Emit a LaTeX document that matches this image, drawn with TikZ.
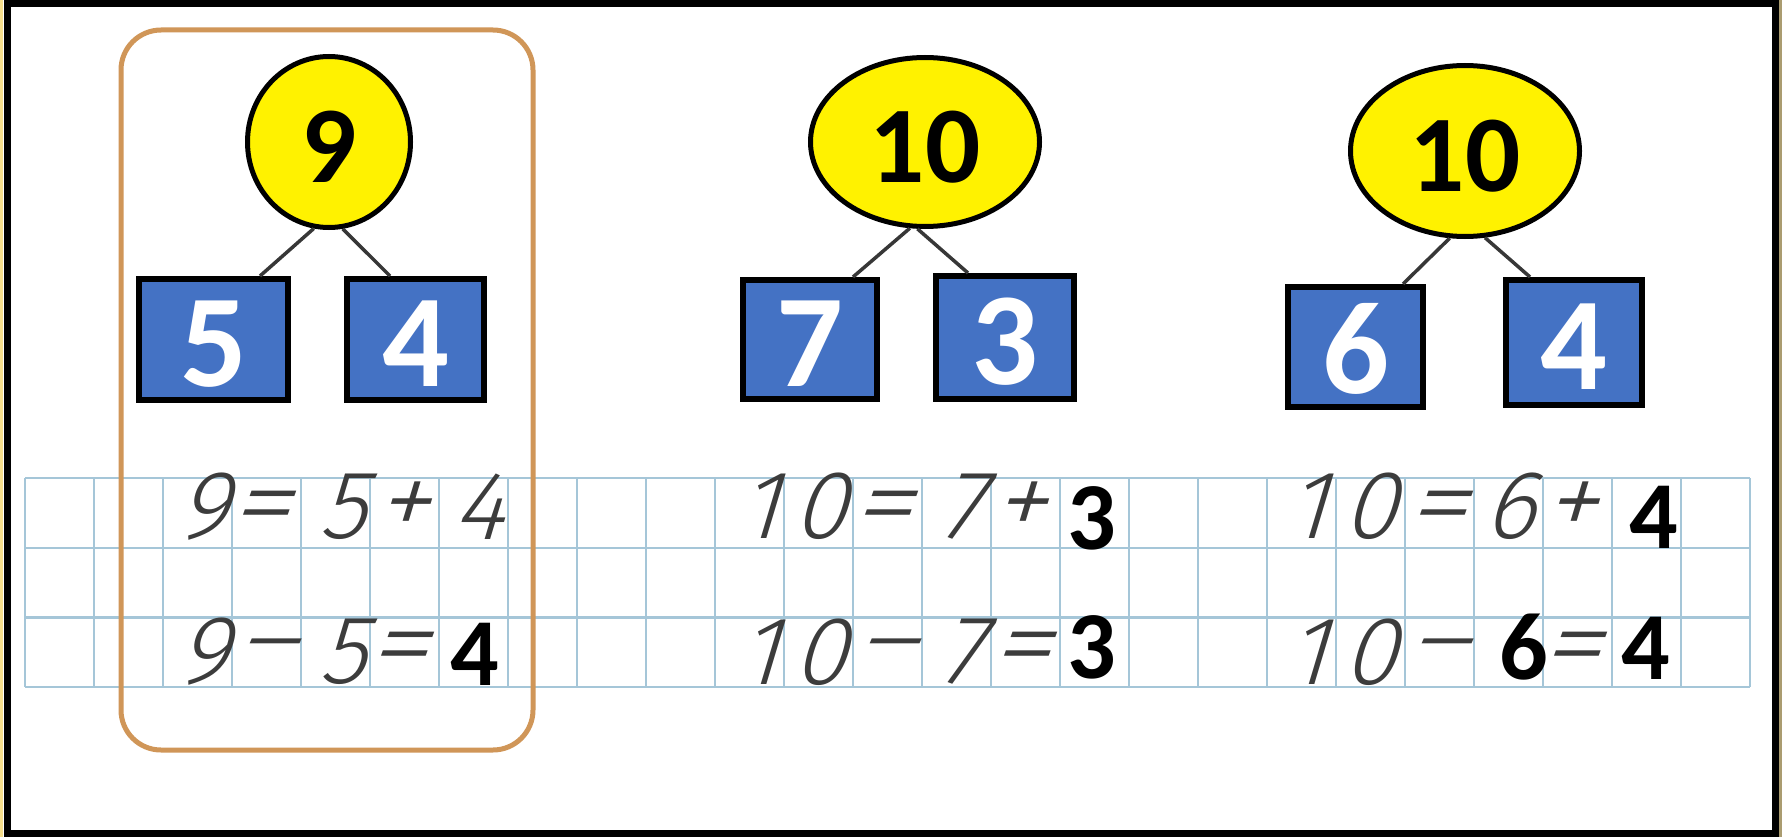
\documentclass[tikz,border=0pt]{standalone}
\usepackage{fontspec}
\usepackage{graphicx}
\setmainfont{Carlito}
\IfFontExistsTF{Fira Sans Light}{\newfontfamily\hand{Fira Sans Light}[FakeSlant=0.3]}{%
 \IfFontExistsTF{Lato Light}{\newfontfamily\hand{Lato Light}[FakeSlant=0.3]}{%
  \IfFontExistsTF{Open Sans Light}{\newfontfamily\hand{Open Sans Light}[FakeSlant=0.3]}{%
   \newfontfamily\hand{Fira Sans}[FakeSlant=0.3]}}}
\usetikzlibrary{calc,shapes.geometric}
\definecolor{boxblue}{HTML}{4472C4}
\definecolor{gridblue}{RGB}{165,198,216}
\definecolor{frameorange}{RGB}{208,150,88}
\definecolor{handgray}{RGB}{60,60,60}
\definecolor{linegray}{RGB}{55,55,55}
\definecolor{edgeyellow}{RGB}{246,222,140}
\definecolor{edgetan}{RGB}{170,156,112}
\newcommand{\wideeq}{\scalebox{1.3}[1.1]{=}}
\newcommand{\widemin}{\scalebox{1.45}[1]{−}}
\newcommand{\bigplus}{\scalebox{1.15}{+}}
\begin{document}
\begin{tikzpicture}[x=1pt,y=-1pt,
  whole/.style={ellipse, draw=black, line width=5pt, fill=yellow, inner sep=0pt,
    text height=81pt, text depth=0pt, font=\fontsize{109}{109}\selectfont\bfseries},
  part/.style={rectangle, draw=black, line width=6pt, fill=boxblue, inner sep=0pt,
    text=white, text height=93pt, text depth=0pt, font=\fontsize{132}{132}\selectfont\bfseries},
  link/.style={draw=linegray, line width=3.5pt},
  gridline/.style={draw=gridblue, line width=2.2pt},
  hw/.style={inner sep=0pt, text=handgray, font=\hand\fontsize{97}{100}\selectfont},
  ans/.style={inner sep=0pt, text=black, font=\fontsize{96}{100}\selectfont\bfseries},
]
\useasboundingbox (0,0) rectangle (1782,837);
\fill[white] (0,0) rectangle (1782,837);
\fill[edgeyellow] (0,0) rectangle (3,837);
\fill[edgetan] (1779,0) rectangle (1782,837);

% grid
\foreach \i in {0,...,25} \draw[gridline] ({25+69*\i},478) -- ({25+69*\i},687);
\foreach \yy in {478,548,617.5,687} \draw[gridline] (25,\yy) -- (1750,\yy);

% highlighted example frame
\draw[frameorange, line width=5pt, rounded corners=40pt] (121,30) rectangle (533,750);

% tree 1
\node[whole, minimum width=163pt, minimum height=171pt] (w1) at (329,142) {9};
\node[part, minimum width=149pt, minimum height=121pt] (a1) at (213.5,339.5) {5};
\node[part, minimum width=137pt, minimum height=121pt] (b1) at (415.5,339.5) {4};
\draw[link] (w1.260) -- ([xshift=46.5pt]a1.north);
\draw[link] (w1.279) -- ([xshift=-25.5pt]b1.north);

% tree 2
\node[whole, minimum width=229pt, minimum height=169pt] (w2) at (925,142) {10};
\node[part, minimum width=134pt, minimum height=119pt] (a2) at (810,339.5) {7};
\node[part, minimum width=138pt, minimum height=123pt] (b2) at (1005,337.5) {3};
\draw[link] (w2.260) -- ([xshift=43pt]a2.north);
\draw[link] (w2.265) -- ([xshift=-37pt]b2.north);

% tree 3
\node[whole, minimum width=229pt, minimum height=171pt] (w3) at (1465,151) {10};
\node[part, minimum width=135pt, minimum height=120pt] (a3) at (1355.5,347) {6};
\node[part, minimum width=136pt, minimum height=125pt] (b3) at (1574,342.5) {4};
\draw[link] (w3.260) -- ([xshift=47.5pt]a3.north);
\draw[link] (w3.283) -- ([xshift=-44pt]b3.north);

% handwritten equations
\foreach \nm/\xx/\yy/\ch in {
  pa1/202.5/506.5/9, pa2/258/515/\wideeq, pa3/342/506.5/5, pa4/401/510/\bigplus, pa5/478/506.5/4,
  qa1/202.5/652/9, qa2/262/656/\widemin, qa3/342/652/5, qa4/396/656/\wideeq,
  pb1/758.5/506.5/1, pb2/819/506.5/0, pb3/880/515/\wideeq, pb4/961/506.5/7, pb5/1018/510/\bigplus,
  qb1/758.5/652/1, qb2/819/652/0, qb3/882/656/\widemin, qb4/961/652/7, qb5/1019/656/\wideeq,
  pc1/1307/506.5/1, pc2/1369.5/506.5/0, pc3/1435/515/\wideeq, pc4/1508.5/506.5/6, pc5/1569/510/\bigplus,
  qc1/1307/652/1, qc2/1369.5/652/0, qc3/1434/656/\widemin, qc5/1569/656/\wideeq}
  \node[hw] (\nm) at (\xx,\yy) {\ch};

% answers
\node[ans] (qa5) at (475,654) {4};
\node[ans] (pb6) at (1092,518.5) {3};
\node[ans] (qb6) at (1092,647) {3};
\node[ans] (pc6) at (1654,517) {4};
\node[ans] (qc4) at (1524,647.5) {6};
\node[ans] (qc6) at (1645.5,648) {4};

% outer frame
\draw[black, line width=7pt] (7,3.5) rectangle (1775.5,833.5);
\end{tikzpicture}
\end{document}
